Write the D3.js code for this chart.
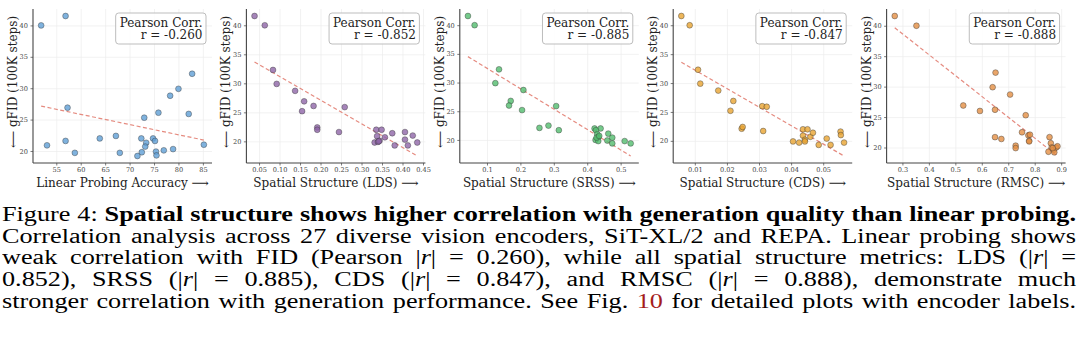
<!DOCTYPE html>
<html lang="en">
<head>
<meta charset="UTF-8">
<title>Figure 4</title>
<script src="https://cdn.jsdelivr.net/npm/d3@7"></script>
<style>
    body {
        margin: 0;
        background: #fff;
        width: 1080px;
        height: 360px;
        overflow: hidden;
        position: relative;
    }
    #chart { position: absolute; left: 0; top: 0; }
    .caption {
        position: absolute;
        left: 2px;
        top: 204px;
        width: 1074px;
        font-family: "Liberation Serif", "Times New Roman", serif;
        font-size: 20.5px;
        color: #000;
        transform-origin: 0 0;
    }
    .caption div {
        height: 21.7px;
        line-height: 21.7px;
        text-align: left;
        white-space: nowrap;
    }
    .caption.justified div {
        text-align: justify;
        text-align-last: justify;
        white-space: normal;
    }
    .caption .ref { color: #a51d1d; }
    .tick text { font-family: "DejaVu Serif", serif; }
</style>
</head>
<body>
<svg id="chart" width="1080" height="195"></svg>
<div class="caption" id="caption"></div>

<script>
// ---- data ----
const linearAcc = [51.9, 56.9, 82.8, 80.0, 78.3, 82.1, 75.9, 73.0, 57.3, 53.1, 56.9, 58.8, 63.9, 67.2, 68.0, 72.4, 73.4, 73.2, 72.5, 71.6, 74.8, 75.2, 75.4, 75.5, 77.0, 78.9, 85.2];
const linearFid = [40.0, 41.5, 32.3, 29.9, 28.8, 25.9, 26.1, 25.3, 26.9, 20.9, 21.6, 19.7, 22.0, 22.4, 19.7, 22.0, 21.3, 20.7, 19.8, 19.2, 22.0, 21.6, 19.9, 19.3, 20.1, 20.3, 21.0];

const ldsVal = [0.039, 0.064, 0.084, 0.093, 0.138, 0.160, 0.155, 0.183, 0.259, 0.192, 0.192, 0.245, 0.336, 0.349, 0.338, 0.357, 0.375, 0.332, 0.340, 0.344, 0.381, 0.406, 0.406, 0.425, 0.413, 0.436, 0.342];
const ldsFid = [41.6, 40.0, 32.3, 29.9, 28.7, 26.9, 25.2, 26.1, 25.9, 22.4, 22.0, 21.6, 22.0, 22.0, 20.9, 20.7, 21.4, 19.8, 19.9, 20.1, 19.3, 21.6, 20.3, 21.0, 19.3, 19.8, 20.0];

const srssVal = [0.043, 0.063, 0.136, 0.125, 0.209, 0.171, 0.166, 0.205, 0.307, 0.257, 0.284, 0.315, 0.422, 0.440, 0.426, 0.430, 0.433, 0.425, 0.433, 0.463, 0.475, 0.460, 0.475, 0.512, 0.530, 0.428, 0.436];
const srssFid = [41.6, 40.0, 32.3, 29.9, 28.7, 26.8, 26.0, 25.2, 25.9, 22.1, 22.5, 21.7, 22.0, 22.0, 21.7, 21.0, 20.5, 20.0, 19.8, 21.1, 20.4, 19.9, 19.4, 19.8, 19.4, 20.4, 20.7];

const cdsVal = [0.0058, 0.0084, 0.0110, 0.0117, 0.0173, 0.0211, 0.0220, 0.0246, 0.0249, 0.0310, 0.0324, 0.0313, 0.0406, 0.0425, 0.0437, 0.0451, 0.0437, 0.0460, 0.0468, 0.0443, 0.0443, 0.0486, 0.0511, 0.0523, 0.0554, 0.0555, 0.0565];
const cdsFid = [41.6, 40.0, 32.3, 29.9, 28.7, 25.2, 26.9, 22.1, 22.4, 26.0, 25.9, 21.7, 19.9, 19.7, 22.0, 22.0, 20.9, 20.7, 21.4, 20.2, 19.9, 19.3, 20.4, 19.3, 21.6, 21.0, 19.7];

const rmscVal = [0.271, 0.353, 0.652, 0.641, 0.707, 0.530, 0.593, 0.650, 0.766, 0.650, 0.674, 0.728, 0.728, 0.752, 0.776, 0.782, 0.779, 0.856, 0.861, 0.864, 0.852, 0.871, 0.881, 0.886, 0.874, 0.868, 0.779];
const rmscFid = [41.6, 40.0, 32.3, 29.9, 28.7, 26.9, 26.0, 26.2, 25.3, 21.7, 21.4, 20.3, 19.9, 22.5, 22.0, 22.1, 21.1, 21.7, 20.7, 20.0, 19.3, 19.6, 20.0, 20.2, 19.2, 19.9, 21.0];

const xLabels = ["Linear Probing Accuracy", "Spatial Structure (LDS)", "Spatial Structure (SRSS)", "Spatial Structure (CDS)", "Spatial Structure (RMSC)"];
const pearsonR = ["-0.260", "-0.852", "-0.885", "-0.847", "-0.888"];
const yTicks = [20, 25, 30, 35, 40];
const xTicks = [
    [55, 60, 65, 70, 75, 80, 85],
    [0.05, 0.10, 0.15, 0.20, 0.25, 0.30, 0.35, 0.40, 0.45],
    [0.1, 0.2, 0.3, 0.4, 0.5],
    [0.01, 0.02, 0.03, 0.04, 0.05],
    [0.3, 0.4, 0.5, 0.6, 0.7, 0.8, 0.9]
];
const xFormats = ["d", ".2f", ".1f", ".2f", ".1f"];
const colors = ["#5f9fd6", "#8e65a8", "#52bd6e", "#e8a431", "#e48f43"];

const captionLines = [
    'Figure 4: <b>Spatial structure shows higher correlation with generation quality than linear probing.</b>',
    'Correlation analysis across 27 diverse vision encoders, SiT-XL/2 and REPA. Linear probing shows',
    'weak correlation with FID (Pearson |<i>r</i>| = 0.260), while all spatial structure metrics: LDS (|<i>r</i>| =',
    '0.852), SRSS (|<i>r</i>| = 0.885), CDS (|<i>r</i>| = 0.847), and RMSC (|<i>r</i>| = 0.888), demonstrate much',
    'stronger correlation with generation performance. See Fig. <span class="ref">10</span> for detailed plots with encoder labels.'
];

const xs = [linearAcc, ldsVal, srssVal, cdsVal, rmscVal];
const ys = [linearFid, ldsFid, srssFid, cdsFid, rmscFid];

// ---- layout ----
const svg = d3.select("#chart");
const plotTop = 9, plotBottom = 163, plotW = 179, step = 213.4, left0 = 33;
const h = plotBottom - plotTop;

function pad(ext, f = 0.05) {
    const d = (ext[1] - ext[0]) * f;
    return [ext[0] - d, ext[1] + d];
}

xs.forEach((xv, i) => {
    const yv = ys[i];
    const pts = xv.map((v, k) => ({ x: v, y: yv[k] }));

    // least squares fit for the dashed trend line
    const mx = d3.mean(xv), my = d3.mean(yv);
    const slope = d3.sum(pts, p => (p.x - mx) * (p.y - my)) / d3.sum(pts, p => (p.x - mx) ** 2);
    const icpt = my - slope * mx;
    const xe = d3.extent(xv);
    const fit = xe.map(v => ({ x: v, y: icpt + slope * v }));

    const x = d3.scaleLinear().domain(pad(xe)).range([0, plotW]);
    const y = d3.scaleLinear()
        .domain(pad(d3.extent(yv.concat(fit.map(d => d.y)))))
        .range([h, 0]);

    const g = svg.append("g").attr("transform", `translate(${left0 + i * step},${plotTop})`);

    // grid
    g.append("g").attr("transform", `translate(0,${h})`)
        .call(d3.axisBottom(x).tickValues(xTicks[i]).tickSize(-h).tickFormat(""))
        .call(a => a.select(".domain").remove())
        .selectAll("line").attr("stroke", "#ececec").attr("stroke-width", 0.7);
    g.append("g")
        .call(d3.axisLeft(y).tickValues(yTicks).tickSize(-plotW).tickFormat(""))
        .call(a => a.select(".domain").remove())
        .selectAll("line").attr("stroke", "#ececec").attr("stroke-width", 0.7);

    // trend line
    g.append("path")
        .datum(fit)
        .attr("d", d3.line().x(d => x(d.x)).y(d => y(d.y)))
        .attr("fill", "none")
        .attr("stroke", "#e0776a")
        .attr("stroke-width", 1.2)
        .attr("stroke-dasharray", "4,2.5")
        .attr("opacity", 0.85);

    // points
    g.selectAll("circle.pt")
        .data(pts)
        .enter()
        .append("circle")
        .attr("class", "pt")
        .attr("cx", d => x(d.x))
        .attr("cy", d => y(d.y))
        .attr("r", 2.9)
        .attr("fill", colors[i])
        .attr("fill-opacity", 0.8)
        .attr("stroke", "#3a3a3a")
        .attr("stroke-opacity", 0.7)
        .attr("stroke-width", 0.6);

    // axes
    const ax = g.append("g").attr("transform", `translate(0,${h})`)
        .call(d3.axisBottom(x).tickValues(xTicks[i]).tickSize(2.5).tickPadding(2).tickFormat(d3.format(xFormats[i])));
    const ay = g.append("g")
        .call(d3.axisLeft(y).tickValues(yTicks).tickSize(2.5).tickPadding(2.5));
    [ax, ay].forEach(a => {
        a.select(".domain").attr("stroke", "#444").attr("stroke-width", 1.1);
        a.selectAll(".tick line").attr("stroke", "#444").attr("stroke-width", 0.7);
        a.selectAll(".tick text").attr("font-size", 6.6).attr("fill", "#444");
    });
    ay.select(".domain").attr("d", `M0,0V${h}`);
    ax.select(".domain").attr("d", `M0,0H${plotW}`);

    // axis labels
    g.append("text")
        .attr("x", plotW / 2)
        .attr("y", h + 23.5)
        .attr("text-anchor", "middle")
        .attr("font-family", "DejaVu Serif, serif")
        .attr("font-size", 12)
        .attr("fill", "#222")
        .text(xLabels[i] + " \u27F6");
    g.append("text")
        .attr("transform", `translate(-20,${h / 2 - 4}) rotate(-90)`)
        .attr("text-anchor", "middle")
        .attr("dominant-baseline", "central")
        .attr("font-family", "DejaVu Serif, serif")
        .attr("font-size", 12)
        .attr("fill", "#222")
        .text("\u27F5 gFID (100K steps)");

    // Pearson box
    const box = g.append("g");
    const rect = box.append("rect");
    const tx = plotW - 9.5;
    const t1 = box.append("text").attr("x", tx).attr("y", 18).text("Pearson Corr.");
    const t2 = box.append("text").attr("x", tx).attr("y", 30).text("r = " + pearsonR[i]);
    box.selectAll("text")
        .attr("text-anchor", "end")
        .attr("font-family", "DejaVu Serif, serif")
        .attr("font-size", 12)
        .attr("fill", "#222");
    const w = Math.max(t1.node().getBBox().width, t2.node().getBBox().width);
    rect.attr("x", tx - w - 4).attr("y", 4)
        .attr("width", w + 7.5).attr("height", 31)
        .attr("rx", 3)
        .attr("fill", "#fff").attr("fill-opacity", 0.85)
        .attr("stroke", "#bdbdbd").attr("stroke-width", 1);
});

// caption: measure natural line widths first, then justify and
// stretch horizontally so the widest line fills the text block
const cap = d3.select("#caption");
const spans = cap.selectAll("div")
    .data(captionLines)
    .enter()
    .append("div")
    .append("span")
    .html(d => d);
let widest = 0;
spans.each(function () { widest = Math.max(widest, this.getBoundingClientRect().width); });
const capW = 1074;
const sx = capW / (widest * 1.004);
cap.style("width", (capW / sx) + "px")
    .style("transform", `scaleX(${sx})`)
    .classed("justified", true);
</script>
</body>
</html>
